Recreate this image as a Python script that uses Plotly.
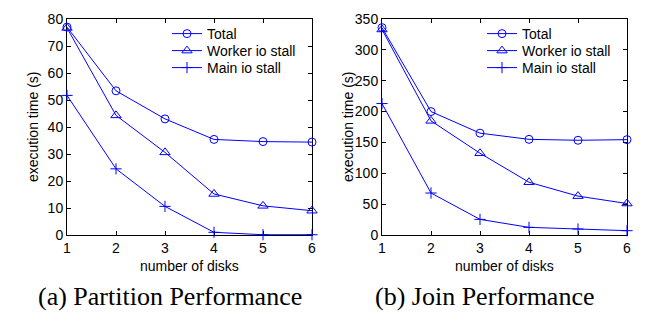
import plotly.graph_objects as go
from plotly.subplots import make_subplots

disks = [1, 2, 3, 4, 5, 6]

part_total = [77.0, 53.4, 43.0, 35.4, 34.6, 34.4]
part_worker = [76.7, 44.3, 30.6, 15.2, 10.8, 9.0]
part_main = [51.7, 24.5, 10.6, 1.0, 0.1, 0.1]

join_total = [336, 200, 165, 155, 153.5, 154.5]
join_worker = [333, 185, 132.5, 85.5, 63, 51]
join_main = [213, 68, 25.3, 12.4, 9.7, 7.0]

series_names = ["Total", "Worker io stall", "Main io stall"]
part_ticks = list(range(0, 81, 10))
join_ticks = list(range(0, 351, 50))
captions = ["(a) Partition Performance", "(b) Join Performance"]

BLUE = "#0000ff"
symbols = ["circle-open", "triangle-up-open", "cross-thin-open"]
sizes = [8, 9, 8]

# page body has an 8px margin; the figure is sized so it fills the window
OFF = 8
W, H = 651 - OFF, 315 - OFF


def px(x):
    return (x - OFF) / W


def py(y):
    return 1 - (y - OFF) / H


fig = make_subplots(rows=1, cols=2)

legend_rows = [34, 51, 68]
leg_ids = []
for col, vals in enumerate([(part_total, part_worker, part_main),
                            (join_total, join_worker, join_main)], start=1):
    for k, (name, v, sym, sz) in enumerate(zip(series_names, vals, symbols, sizes)):
        idx = (col - 1) * 3 + k
        leg = "legend" if idx == 0 else f"legend{idx + 1}"
        leg_ids.append((leg, col, k))
        fig.add_trace(go.Scatter(
            x=disks, y=v, name=name, mode="lines+markers",
            line=dict(color=BLUE, width=1),
            marker=dict(symbol=sym, size=sz, color=BLUE, line=dict(color=BLUE, width=1)),
            cliponaxis=False, legend=leg,
        ), row=1, col=col)

font = dict(family="Liberation Sans, Arial, sans-serif", size=14, color="black")
axis_common = dict(
    showline=True, linecolor="black", linewidth=1, mirror="ticks",
    ticks="inside", ticklen=4, tickcolor="black", tickwidth=1,
    showgrid=False, zeroline=False, tickfont=font, layer="below traces",
    automargin=False,
)

plot_left = [67, 382]
plot_right = [312, 627]
plot_top, plot_bot = 19, 235

for i, (ticks, rng) in enumerate([(part_ticks, [0, 80]), (join_ticks, [0, 350])], start=1):
    fig.update_xaxes(axis_common, domain=(px(plot_left[i - 1]), px(plot_right[i - 1])),
                     range=[1, 6], tickvals=disks, row=1, col=i)
    fig.update_yaxes(axis_common, domain=(py(plot_bot), py(plot_top)), range=rng,
                     tickvals=ticks, row=1, col=i)
    # axis titles
    fig.add_annotation(x=px((plot_left[i - 1] + plot_right[i - 1]) / 2), y=py(266),
                       xref="paper", yref="paper", text="number of disks",
                       showarrow=False, font=font, xanchor="center", yanchor="middle")
    fig.add_annotation(x=px(plot_left[i - 1] - 34), y=py((plot_top + plot_bot) / 2),
                       xref="paper", yref="paper", text="execution time (s)",
                       showarrow=False, font=font, textangle=-90,
                       xanchor="center", yanchor="middle")

leg_common = dict(font=font, bgcolor="rgba(0,0,0,0)", borderwidth=0,
                  xanchor="left", yanchor="middle", itemwidth=30)
legends = {}
for leg, col, k in leg_ids:
    legends[leg] = dict(leg_common, x=px(167 + (col - 1) * 315), y=py(legend_rows[k]))
fig.update_layout(**legends)

cap_font = dict(family="Liberation Serif, Times New Roman, serif", size=26, color="black")
for cx, txt in zip([170, 484], captions):
    fig.add_annotation(x=px(cx), y=py(296), xref="paper", yref="paper",
                       text=txt, showarrow=False, font=cap_font,
                       xanchor="center", yanchor="middle")

fig.update_layout(
    width=W, height=H, margin=dict(l=0, r=0, t=0, b=0),
    paper_bgcolor="white", plot_bgcolor="white", showlegend=True,
)

fig.write_html("out.html")
